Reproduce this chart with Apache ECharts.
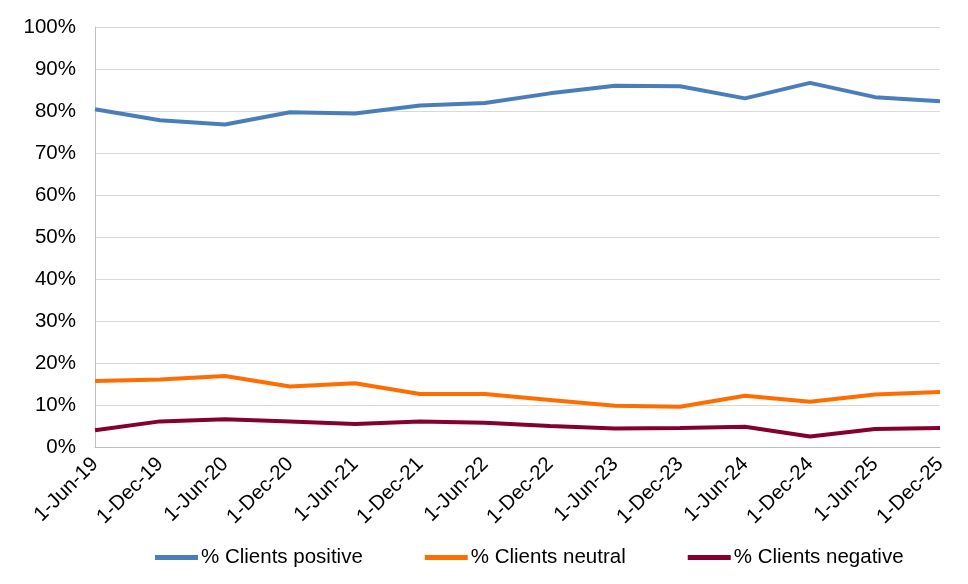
<!DOCTYPE html>
<html>
<head>
<meta charset="utf-8">
<script src="https://cdn.jsdelivr.net/npm/echarts@6/dist/echarts.min.js"></script>
<style>html,body{margin:0;padding:0;background:#fff}#c{width:968px;height:584px}</style>
</head>
<body>
<div id="c"></div>
<script>
const categories = ['1-Jun-19','1-Dec-19','1-Jun-20','1-Dec-20','1-Jun-21','1-Dec-21','1-Jun-22','1-Dec-22','1-Jun-23','1-Dec-23','1-Jun-24','1-Dec-24','1-Jun-25','1-Dec-25'];
const positive = [80.4, 77.8, 76.8, 79.7, 79.4, 81.3, 81.9, 84.2, 86.0, 85.9, 83.0, 86.7, 83.3, 82.3];
const neutral  = [15.7, 16.1, 16.9, 14.4, 15.2, 12.6, 12.6, 11.2, 9.8, 9.6, 12.2, 10.8, 12.5, 13.1];
const negative = [4.0, 6.1, 6.6, 6.1, 5.5, 6.1, 5.8, 5.0, 4.4, 4.5, 4.8, 2.5, 4.3, 4.5];
const seriesNames = ['% Clients positive', '% Clients neutral', '% Clients negative'];
const colors = ['#4a7ebb', '#ff6d00', '#85002e'];

const font = 'Liberation Sans, Arial, sans-serif';
const chart = echarts.init(document.getElementById('c'));
const mk = (name, data, color) => ({
  name, type: 'line', data, symbol: 'none', smooth: false,
  lineStyle: { width: 4, color }, itemStyle: { color }
});
chart.setOption({
  animation: false,
  color: colors,
  grid: { left: 95, right: 28, top: 27, bottom: 137 },
  legend: {
    top: 542, left: 150, itemWidth: 43, itemHeight: 5, itemGap: 62,
    icon: 'rect',
    textStyle: { fontFamily: font, fontSize: 20.5, color: '#000', padding: [0, 0, 0, -2] },
    data: seriesNames
  },
  xAxis: {
    type: 'category', data: categories, boundaryGap: false,
    axisLine: { show: true, lineStyle: { color: '#bfbfbf' } },
    axisTick: { show: false },
    axisLabel: { rotate: 45, interval: 0, fontFamily: font, fontSize: 20.5, color: '#000', margin: 14 },
    splitLine: { show: false }
  },
  yAxis: {
    type: 'value', min: 0, max: 100, interval: 10,
    axisLine: { show: true, lineStyle: { color: '#bfbfbf' } },
    axisTick: { show: false },
    axisLabel: { formatter: '{value}%', fontFamily: font, fontSize: 20.5, color: '#000', margin: 19 },
    splitLine: { lineStyle: { color: '#d9d9d9', width: 1 } }
  },
  series: [
    mk(seriesNames[0], positive, colors[0]),
    mk(seriesNames[1], neutral, colors[1]),
    mk(seriesNames[2], negative, colors[2])
  ]
});
</script>
</body>
</html>
